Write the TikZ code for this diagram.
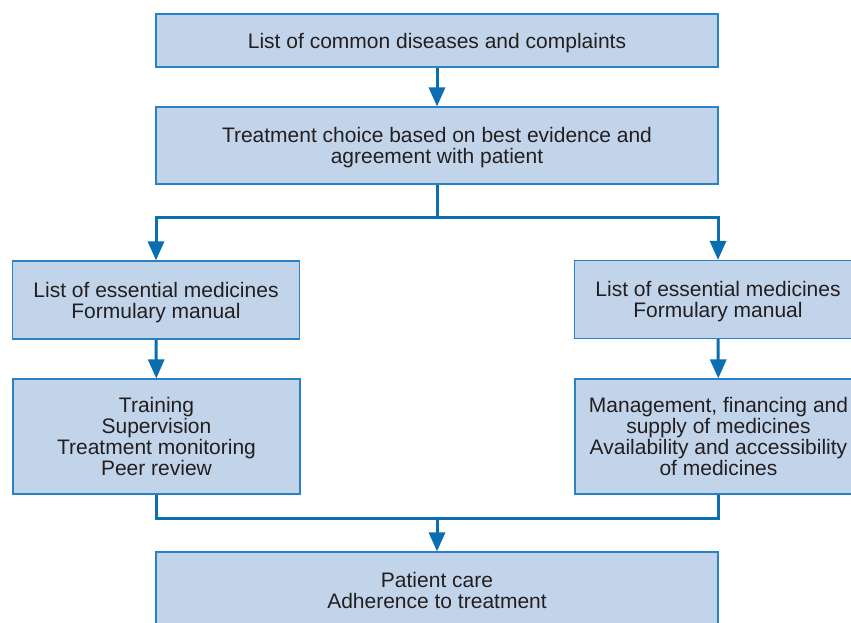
\documentclass[tikz,border=0pt]{standalone}
\usepackage{fontspec}
\setmainfont{Liberation Sans}
\usetikzlibrary{arrows.meta}
\definecolor{boxfill}{HTML}{C2D4E9}
\definecolor{boxline}{HTML}{2A82C4}
\definecolor{conn}{HTML}{0A6EB0}
\definecolor{txt}{HTML}{231F20}
\begin{document}
\begin{tikzpicture}[x=1pt,y=-1pt,
  box/.style={draw=boxline,fill=boxfill,line width=1.1pt,rectangle,inner sep=0pt,
    align=center,text=txt,text depth=0pt,font=\fontsize{21}{21}\selectfont},
  wide/.style={box,minimum width=562pt},
  side/.style={box,minimum width=287pt},
  link/.style={draw=conn,line width=3pt},
  arr/.style={link,-{Triangle[width=16pt,length=19pt]}}]
\clip (0,0) rectangle (851,622);
\useasboundingbox (0,0) rectangle (851,622);
\node[wide,minimum height=53pt] (top) at (437,40.5) {List of common diseases and complaints};
\node[wide,minimum height=77pt] (treat) at (437,145.5) {Treatment choice based on best evidence and\\agreement with patient};
\node[side,minimum height=78pt] (l1) at (156,300) {List of essential medicines\\Formulary manual};
\node[side,minimum height=78pt] (r1) at (718,299.5) {List of essential medicines\\Formulary manual};
\node[side,minimum height=115pt] (l2) at (156.5,436.5) {Training\\Supervision\\Treatment monitoring\\Peer review};
\node[side,minimum height=115pt] (r2) at (718.5,436.5) {Management, financing and\\supply of medicines\\Availability and accessibility\\of medicines};
\node[wide,minimum height=76pt] (pc) at (437,590) {Patient care\\Adherence to treatment};
\coordinate (split) at (437,217);
\coordinate (merge) at (437,518);
\draw[arr] (top) -- (treat);
\draw[link] (treat.south) -- (split);
\draw[arr] (split) -| (l1.north);
\draw[arr] (split) -| (r1.north);
\draw[arr] (l1) -- (l2);
\draw[arr] (r1) -- (r2);
\draw[link] (l2.south) |- (merge) -| (r2.south);
\draw[arr] (merge) -- (pc.north);
\end{tikzpicture}
\end{document}
